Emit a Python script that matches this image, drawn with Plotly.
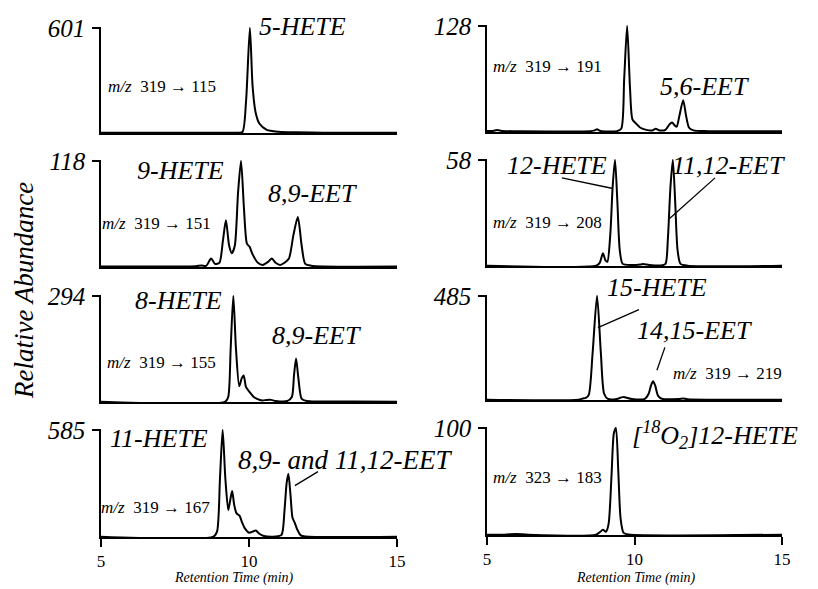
import plotly.graph_objects as go

W, H = 818, 589
FONT = "'Liberation Serif', 'Times New Roman', Times, 'DejaVu Serif', serif"

# ---------------- data (retention time in min, relative intensity %) ----------------
t_5hete = [5.0, 8.0, 9.6, 9.78, 9.9, 10.03, 10.12, 10.22, 10.35, 10.6, 11.0, 11.6, 12.5, 15.0]
y_5hete = [0.3, 0.3, 0.3, 1, 30, 100, 45, 20, 9, 3, 1.2, 0.6, 0.3, 0.3]

t_151 = [5.0, 7.5, 8.2, 8.4, 8.55, 8.72, 8.85, 9.0, 9.12, 9.22, 9.33, 9.42, 9.52, 9.63, 9.73, 9.83,
         9.93, 10.02, 10.12, 10.3, 10.47, 10.65, 10.77, 10.9, 11.05, 11.2, 11.35, 11.5, 11.65, 11.78,
         11.9, 12.1, 12.5, 15.0]
y_151 = [0.5, 0.5, 0.8, 1.5, 1, 8, 3, 4, 25, 44, 20, 13, 20, 70, 100, 55,
         22, 19, 12, 4, 2, 5, 8, 4, 2, 4, 8, 30, 47, 20,
         3, 1.2, 0.5, 0.5]

t_155 = [5.0, 9.2, 9.3, 9.38, 9.47, 9.56, 9.67, 9.75, 9.82, 9.9, 10.03, 10.15, 10.27, 10.45, 10.6,
         10.75, 10.9, 11.3, 11.45, 11.52, 11.59, 11.67, 11.78, 11.95, 12.1, 15.0]
y_155 = [0.3, 0.3, 5, 50, 100, 50, 15, 22, 25, 14, 9, 5, 3, 1.5, 2,
         2, 1, 1, 5, 25, 41, 22, 3, 1, 0.8, 0.3]

t_167 = [5.0, 8.8, 8.92, 9.02, 9.11, 9.2, 9.3, 9.37, 9.43, 9.5, 9.58, 9.68, 9.76, 9.86, 10.0, 10.12,
         10.23, 10.35, 10.5, 10.9, 11.1, 11.2, 11.27, 11.33, 11.4, 11.47, 11.55, 11.63, 11.75, 11.9, 15.0]
y_167 = [0.3, 0.3, 5, 55, 100, 55, 25, 35, 43, 30, 22, 20, 14, 8, 4, 5,
         6, 3, 1, 0.5, 2, 25, 50, 59, 40, 18, 13, 7, 1.5, 0.5, 0.3]

t_191 = [5.0, 5.2, 5.35, 5.5, 6.0, 8.5, 8.65, 8.73, 8.85, 9.4, 9.55, 9.65, 9.75, 9.85, 9.93, 10.05,
         10.2, 10.4, 10.6, 10.72, 10.85, 11.05, 11.18, 11.27, 11.37, 11.43, 11.52, 11.65, 11.75, 11.85,
         12.0, 12.5, 15.0]
y_191 = [1, 1, 1.8, 1, 0.8, 0.8, 1.5, 2.5, 1, 0.8, 3, 50, 100, 40, 12, 8,
         4, 2, 1.5, 3, 1.5, 2, 7, 9, 6, 5, 15, 30, 15, 4,
         1.5, 0.8, 0.8]

t_208 = [5.0, 8.7, 8.82, 8.93, 9.02, 9.08, 9.18, 9.26, 9.34, 9.42, 9.5, 9.6, 9.9, 10.2, 10.3, 10.5,
         10.9, 11.05, 11.13, 11.22, 11.3, 11.38, 11.46, 11.56, 11.8, 15.0]
y_208 = [0.3, 0.3, 3, 12, 5, 4, 30, 75, 100, 60, 15, 2, 1, 1.5, 2, 1,
         0.5, 2, 25, 75, 100, 60, 15, 2, 0.3, 0.3]

t_219 = [5.0, 8.1, 8.25, 8.35, 8.45, 8.58, 8.73, 8.86, 8.97, 9.1, 9.4, 9.55, 9.64, 9.75, 9.9, 10.35,
         10.48, 10.56, 10.63, 10.7, 10.8, 10.95, 11.5, 11.65, 11.8, 15.0]
y_219 = [0.3, 0.3, 1.5, 2, 5, 45, 100, 45, 6, 1, 1, 2.5, 3, 2, 1, 1,
         6, 14, 18, 14, 4, 1, 1, 1.5, 0.8, 0.3]

t_183 = [5.0, 5.6, 6.0, 6.4, 8.7, 8.82, 8.93, 9.03, 9.12, 9.22, 9.3, 9.37, 9.45, 9.53, 9.63, 9.8, 15.0]
y_183 = [0.3, 0.3, 1, 0.3, 0.3, 2.5, 5, 3, 10, 55, 95, 100, 60, 15, 2, 0.5, 0.3]

max_counts = ["601", "118", "294", "585", "128", "58", "485", "100"]
transitions = ["319 → 115", "319 → 151", "319 → 155", "319 → 167",
               "319 → 191", "319 → 208", "319 → 219", "323 → 183"]
x_ticks = [5, 10, 15]

series = [(t_5hete, y_5hete), (t_151, y_151), (t_155, y_155), (t_167, y_167),
          (t_191, y_191), (t_208, y_208), (t_219, y_219), (t_183, y_183)]

# ---------------- layout geometry (pixels) ----------------
def px(x):
    return x / W

def py(y):
    return 1 - y / H

col_x = [(101, 397), (487, 782)]
rows_left = [(27, 133), (160, 267), (295, 402), (429, 537)]
rows_right = [(25, 132), (159, 266), (295, 400), (427, 535)]

fig = go.Figure()
layout = dict(
    template="none",
    width=W, height=H, margin=dict(l=0, r=0, t=0, b=0, pad=0, autoexpand=False),
    paper_bgcolor="white", plot_bgcolor="white", showlegend=False,
    font=dict(family=FONT, color="black"),
)

for i, (tx, yy) in enumerate(series):
    col = 0 if i < 4 else 1
    row = i % 4
    top, base = (rows_left if col == 0 else rows_right)[row]
    k = i + 1
    xa = "xaxis" if k == 1 else f"xaxis{k}"
    ya = "yaxis" if k == 1 else f"yaxis{k}"
    fig.add_trace(go.Scatter(
        x=tx, y=yy, mode="lines", xaxis=f"x{k}" if k > 1 else "x", yaxis=f"y{k}" if k > 1 else "y",
        line=dict(color="black", width=2, shape="spline", smoothing=0.7),
        hoverinfo="skip"))
    bottom = row == 3
    layout[xa] = dict(
        domain=[px(col_x[col][0]), px(col_x[col][1])], range=[5, 15],
        anchor=f"y{k}" if k > 1 else "y", automargin=False,
        showline=True, linecolor="black", linewidth=1.6, showgrid=False, zeroline=False,
        tickvals=x_ticks if bottom else [], ticks="outside" if bottom else "",
        ticklen=8, tickwidth=1.6, tickcolor="black",
        showticklabels=bottom, tickfont=dict(family=FONT, size=17, color="black"),
    )
    layout[ya] = dict(
        domain=[py(base), py(top)], range=[0, 100.8],
        anchor=f"x{k}" if k > 1 else "x", automargin=False,
        showline=True, linecolor="black", linewidth=1.6, showgrid=False, zeroline=False,
        tickvals=[100], ticktext=[f"<i>{max_counts[i]}</i>"], ticks="outside",
        ticklen=7, tickwidth=1.6, tickcolor="black", ticklabelstandoff=2,
        tickfont=dict(family=FONT, size=25, color="black"),
    )

fig.update_layout(**layout)

# ---------------- text ----------------
ann = []

def label(text, x, y, size=26, xanchor="left"):
    ann.append(dict(text=text, x=px(x), y=py(y), xref="paper", yref="paper",
                    xanchor=xanchor, yanchor="middle", showarrow=False,
                    font=dict(family=FONT, size=size, color="black")))

# compound names
label("<i>5-HETE</i>", 257, 27)
label("<i>9-HETE</i>", 135, 170)
label("<i>8,9-EET</i>", 266, 193)
label("<i>8-HETE</i>", 133, 300)
label("<i>8,9-EET</i>", 270, 335)
label("<i>11-HETE</i>", 108, 438)
label("<i>8,9- and 11,12-EET</i>", 236, 460, size=27)
label("<i>5,6-EET</i>", 658, 87)
label("<i>12-HETE</i>", 505, 165)
label("<i>11,12-EET</i>", 670, 165)
label("<i>15-HETE</i>", 605, 288)
label("<i>14,15-EET</i>", 635, 330)
label("<i>[<sup>18</sup>O<sub>2</sub>]12-HETE</i>", 630, 435)

# transitions
mz_pos = [(106, 87), (100, 223), (105, 362), (99, 507),
          (491, 67), (491, 222), (671, 373), (491, 477)]
for (x, y), tr in zip(mz_pos, transitions):
    label(f"<i>m/z</i>  {tr}", x, y, size=17)

# axis titles
ann.append(dict(text="<i>Relative Abundance</i>", x=px(24), y=py(291), xref="paper", yref="paper",
                textangle=-90, showarrow=False, xanchor="center", yanchor="middle",
                font=dict(family=FONT, size=27, color="black")))
label("<i>Retention Time (min)</i>", 234, 578, size=14, xanchor="center")
label("<i>Retention Time (min)</i>", 636, 578, size=14, xanchor="center")

fig.update_layout(annotations=ann)

# leader lines (data coordinates of each panel)
leaders = [
    ("x6", "y6", 7.54, 83, 9.27, 73),
    ("x6", "y6", 12.73, 83, 11.2, 45),
    ("x7", "y7", 10.15, 86.7, 8.76, 69.5),
    ("x7", "y7", 11.03, 50.5, 10.76, 28.6),
    ("x4", "y4", 12.33, 61, 11.55, 48),
]
for xr, yr, x0, y0, x1, y1 in leaders:
    fig.add_shape(type="line", xref=xr, yref=yr, x0=x0, y0=y0, x1=x1, y1=y1,
                  line=dict(color="black", width=1.3))

fig.write_html("out.html", config={"displayModeBar": False},
               post_script="document.body.style.margin='0';document.body.style.padding='0';")
